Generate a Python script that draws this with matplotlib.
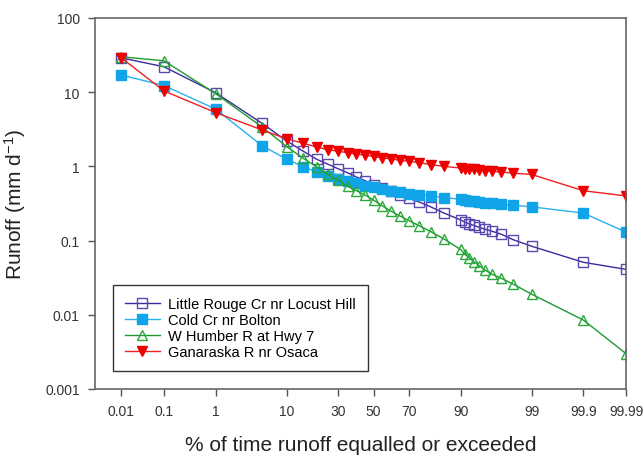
import numpy as np
import matplotlib
matplotlib.use("Agg")
import matplotlib.pyplot as plt
from statistics import NormalDist

plt.rcParams['font.family'] = ['Liberation Sans', 'DejaVu Sans']
plt.rcParams['mathtext.fontset'] = 'custom'
plt.rcParams['mathtext.rm'] = 'Liberation Sans'
plt.rcParams['mathtext.default'] = 'regular'

# % of time runoff equalled or exceeded
pct = [0.01, 0.1, 1, 5, 10, 15, 20, 25, 30, 35, 40, 45, 50, 55, 60, 65,
       70, 75, 80, 85, 90, 91, 92, 93, 94, 95, 96, 97, 98, 99, 99.9, 99.99]

# runoff (mm/d)
little_rouge = [29, 22, 9.8, 3.8, 2.2, 1.6, 1.25, 1.07, 0.93, 0.82, 0.72, 0.64,
                0.57, 0.51, 0.46, 0.41, 0.37, 0.33, 0.285, 0.235, 0.19, 0.178,
                0.168, 0.16, 0.151, 0.142, 0.133, 0.122, 0.103, 0.084, 0.051, 0.041]
cold_cr = [17, 12.3, 5.9, 1.9, 1.25, 0.99, 0.84, 0.75, 0.68, 0.63, 0.59, 0.55,
           0.52, 0.49, 0.47, 0.45, 0.43, 0.415, 0.40, 0.38, 0.36, 0.35,
           0.345, 0.34, 0.33, 0.325, 0.32, 0.31, 0.30, 0.285, 0.235, 0.13]
w_humber = [30, 26.5, 9.5, 3.4, 1.85, 1.28, 0.99, 0.78, 0.65, 0.54, 0.47, 0.41,
            0.35, 0.295, 0.25, 0.215, 0.185, 0.158, 0.132, 0.105, 0.076, 0.066,
            0.059, 0.052, 0.046, 0.040, 0.035, 0.031, 0.026, 0.019, 0.0085, 0.003]
ganaraska = [29, 10.4, 5.3, 3.1, 2.35, 2.05, 1.82, 1.68, 1.6, 1.53, 1.47, 1.41,
             1.36, 1.31, 1.26, 1.21, 1.17, 1.12, 1.06, 1.0, 0.95, 0.93,
             0.92, 0.91, 0.89, 0.88, 0.86, 0.84, 0.81, 0.78, 0.47, 0.40]

xticks = [0.01, 0.1, 1, 10, 30, 50, 70, 90, 99, 99.9, 99.99]
xtick_labels = ['0.01', '0.1', '1', '10', '30', '50', '70', '90', '99', '99.9', '99.99']
yticks = [0.001, 0.01, 0.1, 1, 10, 100]
ytick_labels = ['0.001', '0.01', '0.1', '1', '10', '100']

# normal probability scale for the x axis
nd = NormalDist()
_ppf = np.vectorize(lambda p: nd.inv_cdf(min(max(p / 100.0, 1e-12), 1 - 1e-12)),
                    otypes=[float])
_cdf = np.vectorize(lambda z: nd.cdf(z) * 100.0, otypes=[float])

def forward(p):
    return _ppf(np.asarray(p, dtype=float))

def inverse(z):
    return _cdf(np.asarray(z, dtype=float))

fig = plt.figure(figsize=(6.44, 4.56), dpi=100)
ax = fig.add_axes([95 / 644, 1 - 390 / 456, (626 - 95) / 644, (390 - 19) / 456])
ax.set_xscale('function', functions=(forward, inverse))
ax.set_yscale('log')

ax.plot(pct, little_rouge, color='#3a2a9c', lw=1.0, marker='s', ms=6.5,
        mfc='none', mec='#5a48b0', mew=1.0, label='Little Rouge Cr nr Locust Hill')
ax.plot(pct, cold_cr, color='#2ab0ee', lw=1.0, marker='s', ms=6.5,
        mfc='#12a4e8', mec='#12a4e8', label='Cold Cr nr Bolton')
ax.plot(pct, w_humber, color='#1e9a2e', lw=1.0, marker='^', ms=7.5,
        mfc='none', mec='#2aa83a', mew=1.0, label='W Humber R at Hwy 7')
ax.plot(pct, ganaraska, color='#f02020', lw=1.0, marker='v', ms=7.5,
        mfc='#ee0000', mec='#ee0000', label='Ganaraska R nr Osaca')

ax.set_xlim(0.002, 99.99)
ax.set_ylim(0.001, 100)
ax.set_xticks(xticks)
ax.set_xticklabels(xtick_labels)
ax.set_yticks(yticks)
ax.set_yticklabels(ytick_labels)
ax.minorticks_off()
ax.tick_params(direction='out', length=5, width=1, colors='#555555',
               labelcolor='#333333', labelsize=10, pad=6)

for s in ax.spines.values():
    s.set_color('#666666')
    s.set_linewidth(1.2)

ax.set_xlabel('% of time runoff equalled or exceeded', fontsize=15, color='#222222', labelpad=12)
ax.set_ylabel('Runoff (mm d$^{-1}$)', fontsize=15, color='#222222', labelpad=12)

leg = ax.legend(loc='lower left', bbox_to_anchor=(0.034, 0.0485), borderaxespad=0,
                fontsize=10.5, fancybox=False, framealpha=1, edgecolor='#333333',
                handlelength=2.4, labelspacing=0.15, borderpad=0.8, handletextpad=0.6)
leg.get_frame().set_linewidth(1.0)

fig.savefig('out.png', dpi=100)
